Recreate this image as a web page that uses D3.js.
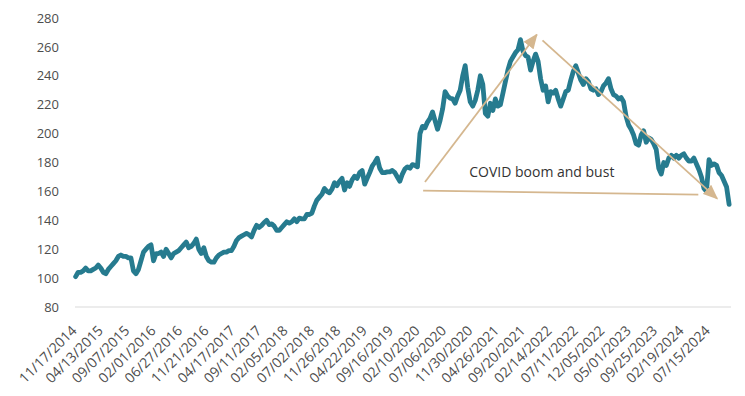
<!DOCTYPE html>
<html>
<head>
<meta charset="utf-8">
<script src="https://cdn.jsdelivr.net/npm/d3@7"></script>
<style>
  html, body { margin: 0; padding: 0; background: #ffffff; }
  svg { display: block; }
</style>
</head>
<body>
<script>
// ---- data ----
const startDate = "2014-11-17";   // first weekly observation
const stepWeeks = 2;              // one value every two weeks
const totalWeeks = 522;           // weekly categories on the axis

const values = [
  101,104,104,105,107,105,105,106,107,109,
  107,104,103,106,108,110,112,115,116,115,
  115,114,114,105,103,106,112,118,120,122,
  123,112,117,117,118,115,120,117,114,117,
  118,119,121,123,125,121,122,124,127,120,
  117,121,115,112,111,111,114,116,117,118,
  118,119,119,122,126,128,129,130,131,130,
  128.5,133,136.5,135,136.5,138.5,140,137,137.5,136,
  133,133,135,137,139,138,139,141,139,141.5,
  141,141,144,144,145,150,154,156,158,162,
  160,159,161.5,166,164,167,169,161,166,163.5,
  168,170.5,169,173,174.5,165,169,
  173,177.5,180,
  183,176,173,173,173.5,173.5,174.5,173,170,167,
  172,175.5,177,176,178.5,178,177,200,205,204,
  208,210.5,215,209,203,209,217,229,226,224.5,
  224,221,226,230,240,247,232,222,219,223,
  230,240,
  234,214,212,221,216,224,219,220,
  228,236,244,250,253,256,258,265,257,254,
  253,244,250,255,250,238,230,233,222,229,
  228,230,224,219,224,229,230,237,243,247,
  242,237,234,238,236,231,230,
  231,227,229,
  233,235,238,231,227,226,224,225,222,212,
  206,203,199,193,192,199,202,194,197,196,
  193,189,176,172,180,178,183,185,183,185,
  183,185,186,183,181,181,183,179,175,170,
  162,160,182,178,179,178,173,171,167,163,
  151
];

const xTickLabels = [
  "11/17/2014","04/13/2015","09/07/2015","02/01/2016","06/27/2016",
  "11/21/2016","04/17/2017","09/11/2017","02/05/2018","07/02/2018",
  "11/26/2018","04/22/2019","09/16/2019","02/10/2020","07/06/2020",
  "11/30/2020","04/26/2021","09/20/2021","02/14/2022","07/11/2022",
  "12/05/2022","05/01/2023","09/25/2023","02/19/2024","07/15/2024"
];
const xTickEveryWeeks = 21;
const yTicks = [80,100,120,140,160,180,200,220,240,260,280];

// annotation, in data units (week index, value)
const annotationText = "COVID boom and bust";
const boomArrow = { from: [278, 166.5], to: [367, 268.5] };
const bustArrow = { from: [371.5, 264.5], to: [510.5, 155] };
const baseLine  = { from: [276.5, 160.5], to: [495.5, 157.8] };
const textPos   = [313.2, 170.3];

// ---- drawing ----
const W = 745, H = 396;
const svg = d3.select("body").append("svg")
  .attr("width", W).attr("height", H)
  .attr("font-family", "'Open Sans', 'Noto Sans', sans-serif");

const x = d3.scaleLinear().domain([-0.5, totalWeeks - 0.5]).range([75, 731]);
const y = d3.scaleLinear().domain([80, 280]).range([307, 18]);

// y tick labels
svg.append("g").selectAll("text").data(yTicks).join("text")
  .attr("x", 59).attr("y", d => y(d)).attr("dy", "0.36em")
  .attr("text-anchor", "end")
  .attr("font-size", 13).attr("fill", "#4d4d4d")
  .text(d => d);

// axis line (at 80)
svg.append("line")
  .attr("x1", x(-0.5)).attr("x2", x(totalWeeks - 0.5))
  .attr("y1", y(80)).attr("y2", y(80))
  .attr("stroke", "#d9d9d9").attr("stroke-width", 1);

// x tick labels, rotated
svg.append("g").selectAll("text").data(xTickLabels).join("text")
  .attr("transform", (d, i) => `translate(${x(i * xTickEveryWeeks) - 1.5},${y(80) + 21}) rotate(-45)`)
  .attr("dy", "0.35em")
  .attr("text-anchor", "end")
  .attr("font-size", 14).attr("fill", "#4d4d4d")
  .text(d => d);

// series line
const line = d3.line()
  .x((d, i) => x(i * stepWeeks))
  .y(d => y(d));

svg.append("path")
  .datum(values)
  .attr("d", line)
  .attr("fill", "none")
  .attr("stroke", "#267b8f")
  .attr("stroke-width", 4.8)
  .attr("stroke-linejoin", "round")
  .attr("stroke-linecap", "round");

// annotations
const tan = "#d5b78f";
const defs = svg.append("defs");
defs.append("marker")
  .attr("id", "arrowHead")
  .attr("viewBox", "0 0 12 10")
  .attr("refX", 11).attr("refY", 5)
  .attr("markerUnits", "userSpaceOnUse")
  .attr("markerWidth", 15).attr("markerHeight", 13)
  .attr("orient", "auto")
  .append("path").attr("d", "M0,0 L12,5 L0,10 Z").attr("fill", tan);

function seg(s, withHead) {
  const l = svg.append("line")
    .attr("x1", x(s.from[0])).attr("y1", y(s.from[1]))
    .attr("x2", x(s.to[0])).attr("y2", y(s.to[1]))
    .attr("stroke", tan).attr("stroke-width", 1.8);
  if (withHead) l.attr("marker-end", "url(#arrowHead)");
}
seg(boomArrow, true);
seg(bustArrow, true);
seg(baseLine, false);

svg.append("text")
  .attr("x", x(textPos[0])).attr("y", y(textPos[1]))
  .attr("font-size", 14).attr("fill", "#333")
  .text(annotationText);
</script>
</body>
</html>
